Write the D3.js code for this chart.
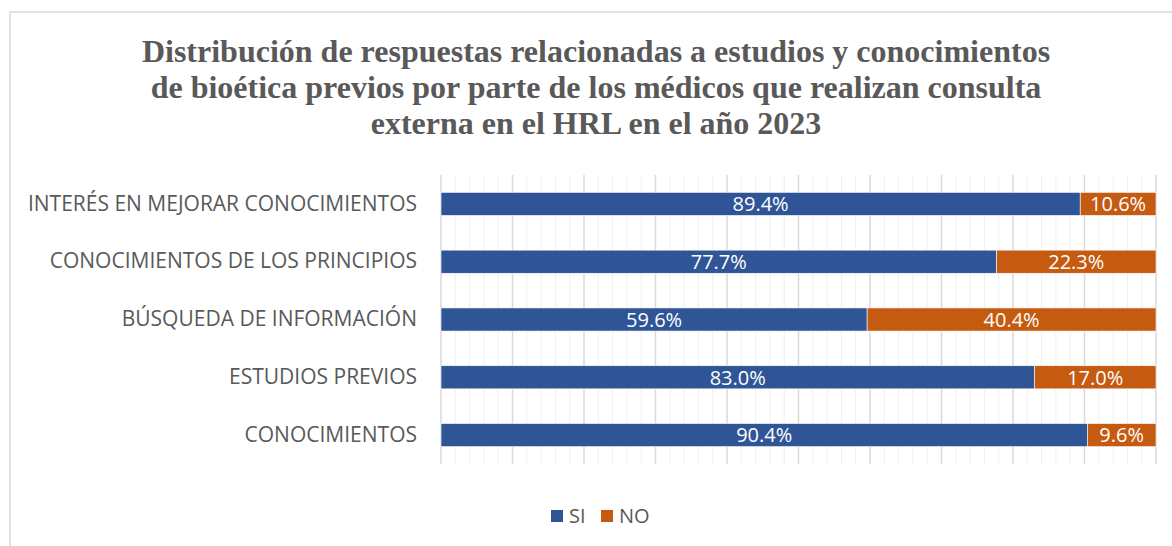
<!DOCTYPE html>
<html>
<head>
<meta charset="utf-8">
<script src="https://cdn.jsdelivr.net/npm/d3@7"></script>
<style>
body{margin:0;background:#fff;}
svg{display:block;}
</style>
</head>
<body>
<div id="chart"></div>
<script>
var categories = ["INTERÉS EN MEJORAR CONOCIMIENTOS","CONOCIMIENTOS DE LOS PRINCIPIOS","BÚSQUEDA DE INFORMACIÓN","ESTUDIOS PREVIOS","CONOCIMIENTOS"];
var siValues = [89.4, 77.7, 59.6, 83.0, 90.4];
var noValues = [10.6, 22.3, 40.4, 17.0, 9.6];
var seriesNames = ["SI","NO"];
var titleLines = ["Distribución de respuestas relacionadas a estudios y conocimientos","de bioética previos por parte de los médicos que realizan consulta","externa en el HRL en el año 2023"];

var w = 1172, h = 546;
var colors = ["#2F5597","#C55A11"];
var font = "'Open Sans', sans-serif";

var svg = d3.select("#chart").append("svg").attr("width", w).attr("height", h);

// chart border
svg.append("rect").attr("x",10).attr("y",12).attr("width",w+10).attr("height",h+10)
   .attr("fill","none").attr("stroke","#d9d9d9").attr("stroke-width",1.5);

svg.append("g").selectAll("text").data(titleLines).enter().append("text")
   .attr("x",596).attr("y",(d,i)=>62+i*36)
   .attr("text-anchor","middle")
   .style("font-family","'Liberation Serif','Times New Roman',serif")
   .style("font-weight","bold").style("font-size","32px").style("fill","#595959")
   .text(d=>d);

var dataset = categories.map((c,i)=>({cat:c, SI:siValues[i], NO:noValues[i]}));
var series = d3.stack().keys(seriesNames)(dataset);

var x = d3.scaleLinear().domain([0,100]).range([441,1156]);
var y = d3.scaleBand().domain(categories).range([175,464]).paddingInner(0.6).paddingOuter(0.3);

// grid: minor every 2%, major every 10%
svg.append("g").selectAll("line").data(d3.range(0,101,2)).enter().append("line")
   .attr("x1",d=>x(d)).attr("x2",d=>x(d)).attr("y1",175).attr("y2",464)
   .attr("stroke",d=>d%10==0?"#d9d9d9":"#efefef").attr("stroke-width",d=>d%10==0?1.5:1);

var groups = svg.selectAll("g.series").data(series).enter().append("g")
   .attr("class","series").style("fill",(d,i)=>colors[i]);

groups.selectAll("rect").data(d=>d).enter().append("rect")
   .attr("x",d=>x(d[0]))
   .attr("y",d=>y(d.data.cat))
   .attr("width",d=>x(d[1])-x(d[0]))
   .attr("height",y.bandwidth())
   .attr("stroke","#fff").attr("stroke-width",0.6);

groups.selectAll("text").data(d=>d).enter().append("text")
   .attr("x",d=>(x(d[0])+x(d[1]))/2)
   .attr("y",d=>y(d.data.cat)+y.bandwidth()/2)
   .attr("dy","0.36em").attr("text-anchor","middle")
   .style("fill","#fff").style("font-family",font).style("font-size","20px")
   .text(d=>(d[1]-d[0]).toFixed(1)+"%");

var yAxis = svg.append("g").attr("transform","translate(441,0)")
   .call(d3.axisLeft(y).tickSize(0).tickPadding(24));
yAxis.select(".domain").remove();
yAxis.selectAll("text").style("font-family",font).style("font-size","21px").style("fill","#595959");

var legend = svg.append("g");
var legendX = [551, 601];
seriesNames.forEach((s,i)=>{
    legend.append("rect").attr("x",legendX[i]).attr("y",510).attr("width",12).attr("height",12)
        .style("fill",colors[i]);
    legend.append("text").attr("x",legendX[i]+18).attr("y",516).attr("dy","0.36em")
        .style("font-family",font).style("font-size","20px").style("fill","#595959")
        .text(s);
});
</script>
</body>
</html>
